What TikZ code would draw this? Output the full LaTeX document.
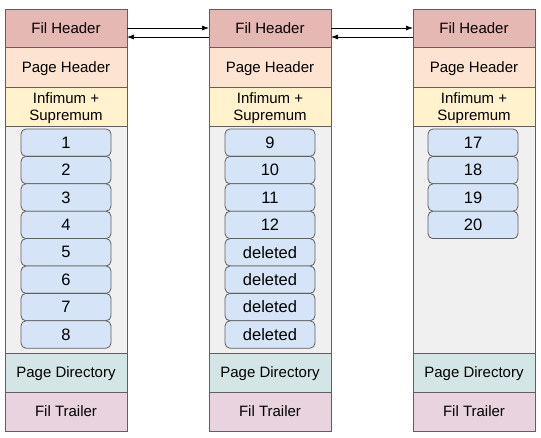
\documentclass[tikz,border=0pt]{standalone}
\usepackage{fontspec}
\setmainfont{Liberation Sans}
\usetikzlibrary{arrows.meta,calc}
\definecolor{filhdr}{HTML}{E6B8B3}
\definecolor{pagehdr}{HTML}{FCE4D0}
\definecolor{infsup}{HTML}{FFF2CC}
\definecolor{recarea}{HTML}{F0F0F0}
\definecolor{recfill}{HTML}{D5E5F7}
\definecolor{pagedir}{HTML}{D4E5E5}
\definecolor{filtrl}{HTML}{E8D3DE}
\definecolor{edge}{HTML}{5F5F5F}
\tikzset{
  part/.style={draw=edge,line width=0.8pt,anchor=north west,minimum width=122pt,
    inner sep=0pt,outer sep=0pt,align=center,text depth=0pt,font=\fontsize{15}{17.5}\selectfont},
  rec/.style={draw=edge,line width=0.8pt,fill=recfill,rounded corners=5pt,anchor=north west,
    minimum width=90pt,minimum height=27.4pt,inner sep=0pt,outer sep=0pt,
    font=\fontsize{16.5}{18}\selectfont},
  link/.style={draw=black,line width=0.7pt,-{Latex[length=7pt,width=5pt]}}
}
\begin{document}
\begin{tikzpicture}[x=1pt,y=-1pt]
\useasboundingbox[fill=white] (0,0) rectangle (541,438);
\foreach \c/\x in {1/5,2/209,3/413}{
  \node[part,fill=filhdr,minimum height=38pt] (fh\c) at (\x,9) {Fil Header};
  \node[part,fill=pagehdr,minimum height=40pt] (ph\c) at (\x,47) {Page Header};
  \node[part,fill=infsup,minimum height=39pt] (is\c) at (\x,87) {Infimum +\\Supremum};
  \node[part,fill=recarea,minimum height=227pt] (ra\c) at (\x,126) {};
  \node[part,fill=pagedir,minimum height=39pt] (pd\c) at (\x,353) {Page Directory};
  \node[part,fill=filtrl,minimum height=39pt] (ft\c) at (\x,392) {Fil Trailer};
}
\foreach \i/\t in {0/1,1/2,2/3,3/4,4/5,5/6,6/7,7/8}{
  \node[rec] (ra\t) at (21,129+27.4*\i) {\t};
}
\foreach \i/\t in {0/9,1/10,2/11,3/12,4/deleted,5/deleted,6/deleted,7/deleted}{
  \node[rec] (rb\i) at (225,129+27.4*\i) {\t};
}
\foreach \i/\t in {0/17,1/18,2/19,3/20}{
  \node[rec] (rc\i) at (428,129+27.4*\i) {\t};
}
\draw[link] ($(fh1.east)+(0,0)$) -- ($(fh2.west)+(0,0)$);
\draw[link] ($(fh2.west)+(0,9)$) -- ($(fh1.east)+(0,9)$);
\draw[link] ($(fh2.east)+(0,0)$) -- ($(fh3.west)+(0,0)$);
\draw[link] ($(fh3.west)+(0,9)$) -- ($(fh2.east)+(0,9)$);
\end{tikzpicture}
\end{document}
